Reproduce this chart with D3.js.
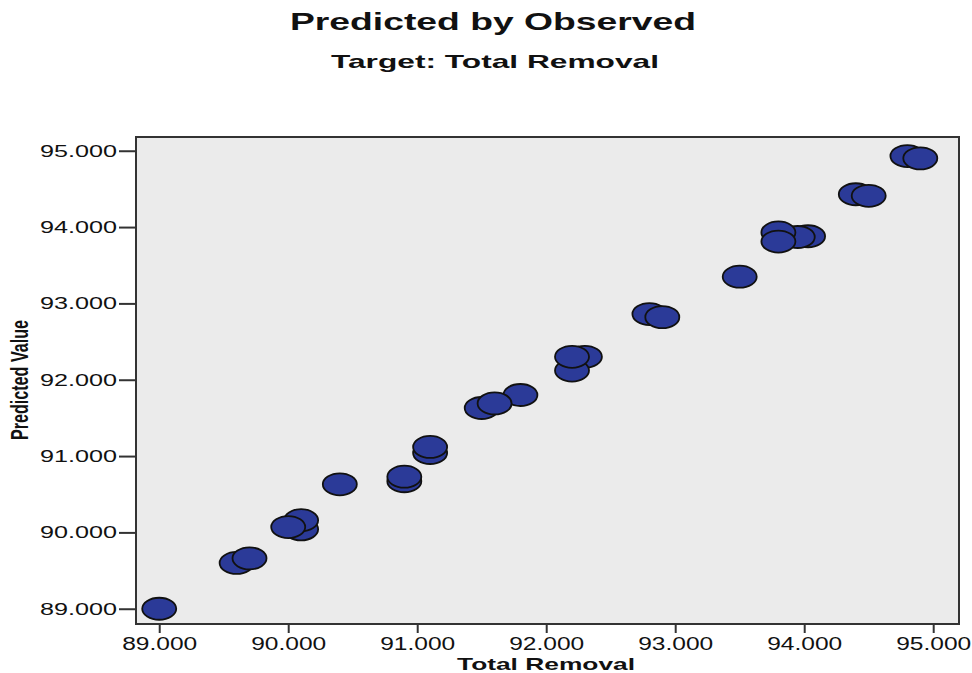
<!DOCTYPE html>
<html>
<head>
<meta charset="utf-8">
<script src="https://cdn.jsdelivr.net/npm/d3@7"></script>
<style>
  body { margin: 0; background: #fff; }
  text { font-family: "Liberation Sans", Arial, sans-serif; fill: #111; }
</style>
</head>
<body>
<svg id="chart" width="972" height="673"></svg>
<script>
// observed (Total Removal) vs predicted values
// (order follows the drawing order: later points sit on top)
const observed  = [89.0, 89.6, 89.7, 90.1, 90.1, 90.0, 90.4, 90.9, 90.9, 91.1, 91.1,
                   91.5, 91.8, 91.6, 92.3, 92.2, 92.2, 92.8, 92.9, 93.5,
                   94.03, 93.95, 93.8, 93.8, 94.4, 94.5, 94.8, 94.9];
const predicted = [89.0, 89.6, 89.66, 90.04, 90.16, 90.07, 90.63, 90.67, 90.73, 91.04, 91.12,
                   91.63, 91.8, 91.69, 92.3, 92.12, 92.3, 92.86, 92.82, 93.35,
                   93.88, 93.87, 93.93, 93.81, 94.43, 94.41, 94.93, 94.9];
const tickValues = [89, 90, 91, 92, 93, 94, 95];

const svg = d3.select("#chart");

// plot frame
const plotLeft = 136, plotRight = 959, plotTop = 137, plotBottom = 624;

const x = d3.scaleLinear().domain([88.82, 95.2]).range([plotLeft, plotRight]);
const y = d3.scaleLinear().domain([88.8, 95.18]).range([plotBottom, plotTop]);
const fmt = d3.format(".3f");

// background
svg.append("rect")
  .attr("x", plotLeft).attr("y", plotTop)
  .attr("width", plotRight - plotLeft).attr("height", plotBottom - plotTop)
  .attr("fill", "#ebebeb");

// titles
svg.append("text")
  .attr("x", 493).attr("y", 30)
  .attr("text-anchor", "middle")
  .attr("textLength", 406).attr("lengthAdjust", "spacingAndGlyphs")
  .style("font-size", "24px").style("font-weight", "bold")
  .text("Predicted by Observed");

svg.append("text")
  .attr("x", 495).attr("y", 68)
  .attr("text-anchor", "middle")
  .attr("textLength", 328).attr("lengthAdjust", "spacingAndGlyphs")
  .style("font-size", "19px").style("font-weight", "bold")
  .text("Target: Total Removal");

// x axis
const xAxis = svg.append("g")
  .attr("transform", `translate(0,${plotBottom})`)
  .call(d3.axisBottom(x).tickValues(tickValues).tickFormat(fmt).tickSize(9).tickSizeOuter(0));
xAxis.select(".domain").remove();
xAxis.selectAll("line").attr("stroke", "#333").attr("stroke-width", 2);
xAxis.selectAll("text")
  .attr("y", 13)
  .attr("textLength", 75).attr("lengthAdjust", "spacingAndGlyphs")
  .style("font-size", "18px").style("font-family", "Liberation Sans, Arial, sans-serif")
  .attr("fill", "#333");

// y axis
const yAxis = svg.append("g")
  .attr("transform", `translate(${plotLeft},0)`)
  .call(d3.axisLeft(y).tickValues(tickValues).tickFormat(fmt).tickSize(17).tickSizeOuter(0));
yAxis.select(".domain").remove();
yAxis.selectAll("line").attr("stroke", "#333").attr("stroke-width", 2);
yAxis.selectAll("text")
  .attr("x", -19)
  .attr("textLength", 77).attr("lengthAdjust", "spacingAndGlyphs")
  .style("font-size", "17px").style("font-family", "Liberation Sans, Arial, sans-serif")
  .attr("fill", "#333");

// frame
svg.append("rect")
  .attr("x", plotLeft).attr("y", plotTop)
  .attr("width", plotRight - plotLeft).attr("height", plotBottom - plotTop)
  .attr("fill", "none")
  .attr("stroke", "#333").attr("stroke-width", 2);

// axis titles
svg.append("text")
  .attr("x", 546).attr("y", 670)
  .attr("text-anchor", "middle")
  .attr("textLength", 178).attr("lengthAdjust", "spacingAndGlyphs")
  .style("font-size", "17px").style("font-weight", "bold")
  .text("Total Removal");

svg.append("text")
  .attr("transform", "translate(28,380) rotate(-90)")
  .attr("text-anchor", "middle")
  .attr("textLength", 120).attr("lengthAdjust", "spacingAndGlyphs")
  .style("font-size", "23px").style("font-weight", "bold")
  .text("Predicted Value");

// points
svg.append("g").selectAll("ellipse")
  .data(observed.map((d, i) => [d, predicted[i]]))
  .join("ellipse")
  .attr("cx", d => x(d[0]))
  .attr("cy", d => y(d[1]))
  .attr("rx", 17)
  .attr("ry", 11)
  .attr("fill", "#2b3a98")
  .attr("stroke", "#111")
  .attr("stroke-width", 1.8);
</script>
</body>
</html>
